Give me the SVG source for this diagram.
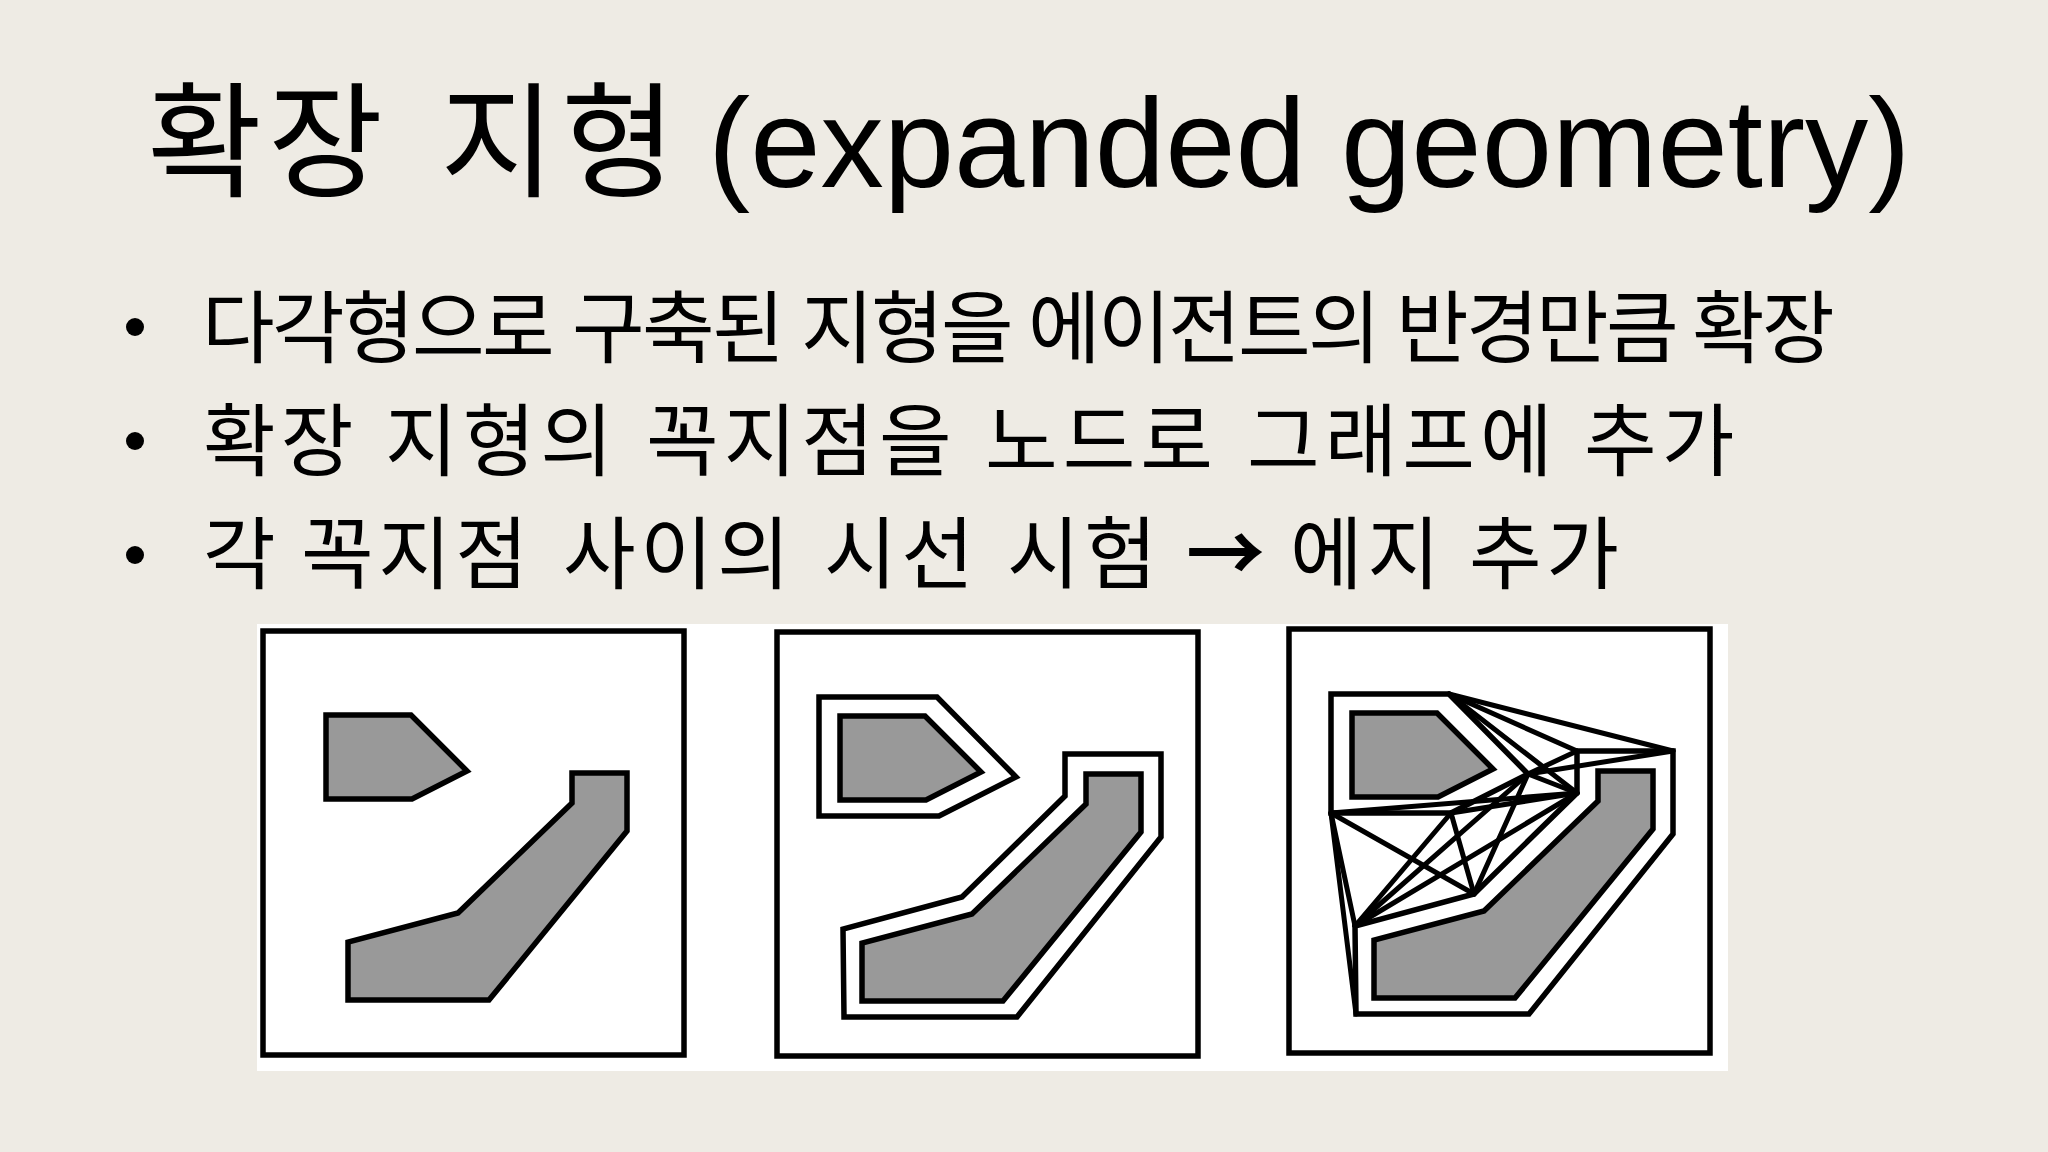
<svg xmlns="http://www.w3.org/2000/svg" xmlns:xlink="http://www.w3.org/1999/xlink" width="2048" height="1152" viewBox="0 0 2048 1152">
  <style>
    .title { font-family: "Liberation Sans", "Noto Sans CJK KR", sans-serif; font-size: 125px; fill: #000; }
    .item { font-family: "Liberation Sans", "Noto Sans CJK KR", sans-serif; font-size: 79px; fill: #000; }
    .arrow { font-family: "Noto Sans CJK KR", sans-serif; font-weight: 700; }
    .frame { fill: #fff; stroke: #000; stroke-width: 5.5; }
    .obst { fill: #999; stroke: #000; stroke-width: 5.5; stroke-linejoin: miter; }
    .grown { fill: none; stroke: #000; stroke-width: 5.5; stroke-linejoin: miter; }
    .vis { stroke: #000; stroke-width: 5; fill: none; stroke-linecap: round; }
  </style>
  <defs>
    <polygon id="pent" class="obst" points="63,84 148,84 204,140 149,168 63,168"/>
    <polygon id="ell" class="obst" points="309,142 364,142 364,200 226,369 85,369 85,311 195,282 309,172"/>
    <polygon id="pentX" class="grown" points="42,65 160,65 239,145 162,184 42,184"/>
    <polygon id="ellX" class="grown" points="288,122 384,122 384,205 240,385 67,385 66,297 185,265 288,164"/>
  </defs>

  <rect x="0" y="0" width="2048" height="1152" fill="#EEEBE4"/>

  <g id="title">
    <text class="title" y="187"><tspan x="147" letter-spacing="6">확장</tspan><tspan x="440" letter-spacing="6">지형</tspan><tspan x="708" font-size="126.5">(expanded geometry)</tspan></text>
  </g>

  <g id="bullets">
    <circle cx="135" cy="327" r="9" fill="#000"/>
    <circle cx="135" cy="441" r="9" fill="#000"/>
    <circle cx="135" cy="555" r="9" fill="#000"/>
    <text class="item" y="357" letter-spacing="-2.7"><tspan x="202">다각형으로</tspan> <tspan x="572">구축된</tspan> <tspan x="801">지형을</tspan> <tspan x="1028">에이전트의</tspan> <tspan x="1396">반경만큼</tspan> <tspan x="1692">확장</tspan></text>
    <text class="item" y="470" letter-spacing="5"><tspan x="203">확장</tspan> <tspan x="385">지형의</tspan> <tspan x="646">꼭지점을</tspan> <tspan x="985">노드로</tspan> <tspan x="1247">그래프에</tspan> <tspan x="1584">추가</tspan></text>
    <text class="item" y="583" letter-spacing="4.5"><tspan x="203">각</tspan> <tspan x="301">꼭지점</tspan> <tspan x="563">사이의</tspan> <tspan x="824">시선</tspan> <tspan x="1007">시험</tspan> <tspan x="1186" class="arrow">→</tspan> <tspan x="1290">에지</tspan> <tspan x="1469">추가</tspan></text>
  </g>

  <rect id="figure-bg" x="257" y="624" width="1471" height="447" fill="#fff"/>

  <g id="panel-1" transform="translate(263,631)">
    <rect class="frame" x="0" y="0" width="421" height="424"/>
    <use xlink:href="#pent"/>
    <use xlink:href="#ell"/>
  </g>

  <g id="panel-2" transform="translate(777,632)">
    <rect class="frame" x="0" y="0" width="421" height="424"/>
    <use xlink:href="#pentX"/>
    <use xlink:href="#ellX"/>
    <use xlink:href="#pent"/>
    <use xlink:href="#ell"/>
  </g>

  <g id="panel-3" transform="translate(1289,629)">
    <rect class="frame" x="0" y="0" width="421" height="424"/>
    <use xlink:href="#pent"/>
    <use xlink:href="#ell"/>
    <g id="connectors">
      <line class="vis" x1="160" y1="65" x2="384" y2="122"/>
      <line class="vis" x1="160" y1="65" x2="288" y2="122"/>
      <line class="vis" x1="160" y1="65" x2="288" y2="164"/>
      <line class="vis" x1="239" y1="145" x2="384" y2="122"/>
      <line class="vis" x1="239" y1="145" x2="288" y2="122"/>
      <line class="vis" x1="239" y1="145" x2="288" y2="164"/>
      <line class="vis" x1="239" y1="145" x2="185" y2="265"/>
      <line class="vis" x1="239" y1="145" x2="66" y2="297"/>
      <line class="vis" x1="162" y1="184" x2="288" y2="164"/>
      <line class="vis" x1="162" y1="184" x2="185" y2="265"/>
      <line class="vis" x1="162" y1="184" x2="66" y2="297"/>
      <line class="vis" x1="42" y1="184" x2="288" y2="164"/>
      <line class="vis" x1="42" y1="184" x2="185" y2="265"/>
      <line class="vis" x1="42" y1="184" x2="66" y2="297"/>
      <line class="vis" x1="42" y1="184" x2="67" y2="385"/>
      <line class="vis" x1="66" y1="297" x2="288" y2="164"/>
    </g>
    <use xlink:href="#pentX"/>
    <use xlink:href="#ellX"/>
  </g>
</svg>
